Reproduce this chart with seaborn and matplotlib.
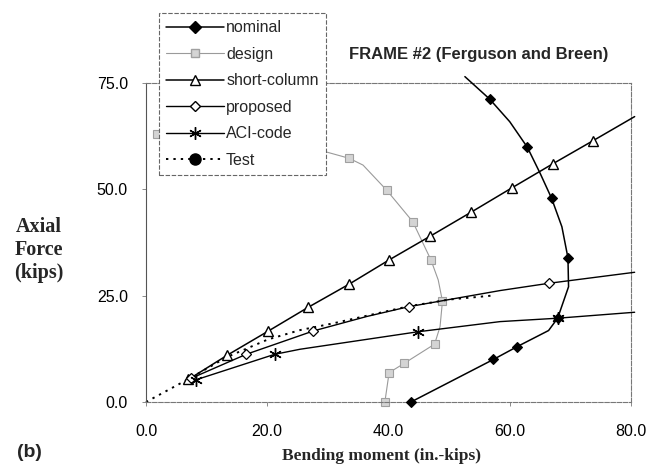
import matplotlib
matplotlib.use("Agg")
import matplotlib.pyplot as plt
import seaborn as sns
from matplotlib.lines import Line2D

# ---------------- data (bending moment M [in.-kips], axial force P [kips]) ----
nominal_M = [52.6, 56.7, 60.0, 62.9, 65.0, 66.9, 68.6, 69.6, 69.7, 67.9, 66.4, 61.2, 57.3, 43.7]
nominal_P = [76.5, 71.2, 65.9, 59.9, 53.8, 47.9, 41.2, 33.9, 27.1, 19.7, 16.8, 13.0, 10.0, 0.0]
nominal_marks = [1, 3, 5, 7, 9, 11, 12, 13]

design_M = [1.8, 29.2, 33.5, 35.8, 39.7, 44.0, 47.0, 48.2, 48.9, 48.5, 47.6, 42.6, 40.1, 39.4]
design_P = [63.0, 59.0, 57.3, 55.7, 49.8, 42.4, 33.4, 28.7, 23.7, 17.7, 13.6, 9.1, 6.9, 0.0]
design_marks = [0, 2, 4, 5, 6, 8, 10, 11, 12, 13]

short_M = [7.0, 13.4, 20.2, 26.8, 33.5, 40.1, 46.9, 53.6, 60.3, 67.1, 73.7, 80.6]
short_P = [5.3, 11.0, 16.7, 22.3, 27.7, 33.4, 39.0, 44.6, 50.3, 56.0, 61.4, 67.1]
short_marks = list(range(11))

prop_M = [7.5, 16.5, 27.6, 36.4, 43.3, 58.4, 66.4, 80.6]
prop_P = [5.6, 11.2, 16.7, 20.1, 22.4, 26.2, 27.9, 30.5]
prop_marks = [0, 1, 2, 4, 6]

aci_M = [8.2, 21.2, 25.4, 44.8, 58.4, 67.9, 80.6]
aci_P = [5.2, 11.2, 12.4, 16.5, 18.9, 19.7, 21.1]
aci_marks = [0, 1, 3, 5]

test_M = [0.0, 7.0, 13.4, 20.1, 25.4, 30.9, 43.3, 50.1, 57.0]
test_P = [0.0, 5.4, 10.6, 14.7, 16.9, 18.5, 22.5, 24.1, 25.0]

labels = ["nominal", "design", "short-column", "proposed", "ACI-code", "Test"]
x_ticks = [0, 20, 40, 60, 80]
y_ticks = [0, 25, 50, 75]
title = "FRAME #2 (Ferguson and Breen)"

# ---------------- figure ----------------
sns.set_theme(style="white")
plt.rcParams['font.family'] = ['Liberation Sans', 'DejaVu Sans']

fig = plt.figure(figsize=(6.61, 4.65), dpi=100)
ax = fig.add_axes([146 / 661, 1 - 402 / 465, (631 - 146) / 661, (402 - 83) / 465])

common = dict(ax=ax, sort=False, estimator=None, clip_on=False)

sns.lineplot(x=design_M, y=design_P, color="#9a9a9a", lw=0.8, marker="s",
             markevery=design_marks, ms=6, mfc="#d4d4d4", mec="#a0a0a0",
             mew=0.8, zorder=2, **common)
sns.lineplot(x=test_M, y=test_P, color="black", lw=1.4, ls=(0, (1.2, 2.6)),
             zorder=2.5, **common)
sns.lineplot(x=short_M, y=short_P, color="black", lw=1.1, marker="^",
             markevery=short_marks, ms=6.5, mfc="white", mec="black", mew=1.0,
             zorder=3, **common)
sns.lineplot(x=prop_M, y=prop_P, color="black", lw=1.0, marker="D",
             markevery=prop_marks, ms=5, mfc="white", mec="black", mew=0.9,
             zorder=3, **common)
sns.lineplot(x=aci_M, y=aci_P, color="black", lw=1.0, marker=(6, 2, 0),
             markevery=aci_marks, ms=9, mfc="black", mec="black", mew=1.0,
             zorder=3, **common)
sns.lineplot(x=nominal_M, y=nominal_P, color="black", lw=1.1, marker="D",
             markevery=nominal_marks, ms=5.5, mfc="black", mec="black", mew=0.8,
             zorder=4, **common)

ax.set_xlim(0, 80)
ax.set_ylim(0, 75)
ax.set_xticks(x_ticks)
ax.set_xticklabels([f"{v:.1f}" for v in x_ticks])
ax.set_yticks(y_ticks)
ax.set_yticklabels([f"{v:.1f}" for v in y_ticks])
ax.tick_params(axis="both", which="both", labelsize=11.5, colors="black",
               length=3, width=0.6, direction="out")
ax.tick_params(axis="x", pad=13, bottom=True, color="#777777")
ax.tick_params(axis="y", pad=10, left=True, color="#777777")
ax.set_xlabel("")
ax.set_ylabel("")

for side in ["top", "right", "bottom"]:
    ax.spines[side].set_visible(True)
    ax.spines[side].set_color("#777777")
    ax.spines[side].set_linewidth(0.8)
    ax.spines[side].set_linestyle((0, (4, 1.5)))
ax.spines["left"].set_visible(True)
ax.spines["left"].set_color("#555555")
ax.spines["left"].set_linewidth(0.8)

# title & labels
fig.text(479 / 661, 1 - 55 / 465, title, ha="center", va="center",
         fontsize=12, fontweight="bold")
fig.text(39 / 661, 1 - 250 / 465, "Axial\nForce\n(kips)", ha="center",
         va="center", multialignment="center", fontsize=14.5, fontweight="bold",
         family=["Liberation Serif", "DejaVu Serif"], linespacing=1.2)
fig.text(381 / 661, 1 - 456 / 465, "Bending moment (in.-kips)", ha="center",
         va="center", fontsize=12.5, fontweight="bold",
         family=["Liberation Serif", "DejaVu Serif"])
fig.text(29 / 661, 1 - 452 / 465, "(b)", ha="center", va="center",
         fontsize=14, fontweight="bold")

# legend
handles = [
    Line2D([], [], color="black", lw=1.1, marker="D", ms=6, mfc="black", mec="black"),
    Line2D([], [], color="#9a9a9a", lw=0.8, marker="s", ms=6, mfc="#d4d4d4", mec="#a0a0a0"),
    Line2D([], [], color="black", lw=1.1, marker="^", ms=6.5, mfc="white", mec="black"),
    Line2D([], [], color="black", lw=1.0, marker="D", ms=5, mfc="white", mec="black"),
    Line2D([], [], color="black", lw=1.0, marker=(6, 2, 0), ms=9, mec="black"),
    Line2D([], [], color="black", lw=1.4, ls=(0, (1.2, 2.6)), marker="o", ms=8,
           mfc="black", mec="black"),
]
leg = ax.legend(handles, labels, loc="upper left",
                bbox_to_anchor=(159 / 661, 1 - 13 / 465),
                bbox_transform=fig.transFigure, borderaxespad=0,
                fontsize=11.5, handlelength=3.6, handletextpad=0.15,
                borderpad=0.45, labelspacing=0.72, numpoints=1,
                fancybox=False, framealpha=1, edgecolor="#666666")
leg.get_frame().set_linestyle((0, (4, 1.5)))
leg.get_frame().set_linewidth(0.8)
leg.set_zorder(10)

fig.savefig("out.png", dpi=100)
